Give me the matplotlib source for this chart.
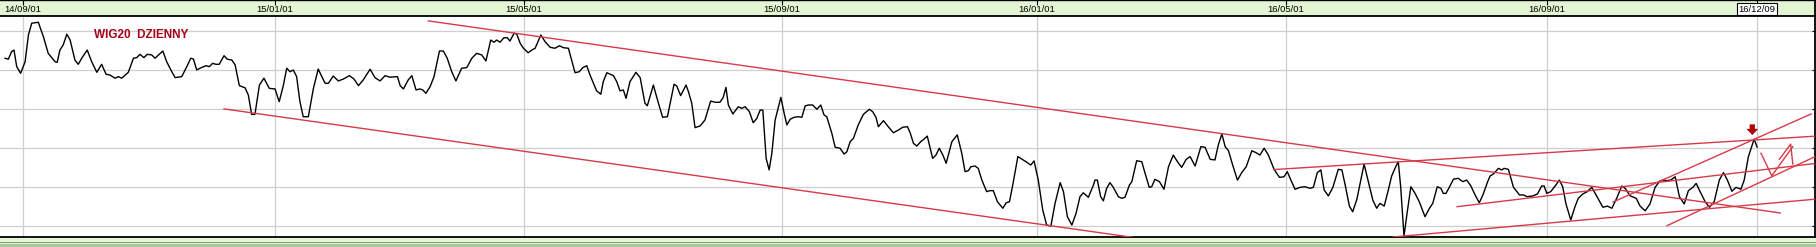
import matplotlib
matplotlib.use("Agg")
import matplotlib.pyplot as plt
from matplotlib.patches import Rectangle

# ---- Data: WIG20 daily closes (session 0 = 2014-09-01) ---- #

session = [
    -6.0, -4.9, -3.8, -3.0, -2.1, -0.8, 0.7, 1.8, 2.9, 5.1,
    6.8, 8.4, 10.7, 11.4, 12.3, 13.4, 14.6, 15.7, 17.3, 18.4,
    19.9, 21.4, 22.9, 24.6, 26.2, 27.7, 29.0, 30.7, 31.8, 32.9,
    35.1, 36.8, 37.9, 39.0, 40.3, 41.4, 42.9, 44.0, 46.6, 47.9,
    49.6, 50.7, 52.9, 54.6, 55.9, 56.8, 57.9, 59.0, 61.0, 62.1,
    63.2, 64.3, 65.4, 67.0, 68.1, 69.6, 70.7, 72.1, 74.0, 75.1,
    76.2, 77.3, 78.8, 80.3, 82.1, 84.0, 85.4, 86.8, 87.9, 89.0,
    90.1, 91.2, 92.3, 93.4, 95.1, 96.8, 98.4, 99.6, 100.7, 101.8,
    103.4, 105.1, 106.8, 108.8, 110.3, 111.8, 113.4, 115.7, 117.3, 119.0,
    120.7, 122.3, 124.8, 125.7, 126.8, 128.4, 129.6, 131.0, 132.3, 133.2,
    134.3, 135.7, 137.0, 138.8, 140.1, 141.4, 142.9, 144.3, 146.2, 147.9,
    149.6, 151.2, 152.9, 154.3, 155.9, 157.0, 157.9, 159.0, 160.3, 161.4,
    162.3, 163.7, 164.6, 165.7, 166.8, 168.4, 169.6, 170.7, 172.6, 174.0,
    175.7, 177.3, 178.8, 180.1, 181.8, 184.0, 185.4, 186.6, 187.9, 189.0,
    191.2, 192.6, 193.4, 194.6, 196.8, 197.9, 199.0, 200.1, 201.0, 202.3,
    204.3, 205.7, 207.3, 208.1, 210.1, 211.8, 213.2, 214.8, 217.0, 217.9,
    219.2, 221.0, 221.8, 222.9, 224.0, 225.7, 227.3, 229.2, 230.7, 232.3,
    233.4, 234.3, 235.1, 236.6, 238.4, 239.6, 240.7, 242.1, 243.4, 244.6,
    245.7, 246.6, 247.7, 248.7, 249.6, 250.7, 252.6, 253.7, 254.6, 255.7,
    257.0, 258.4, 259.6, 260.7, 261.8, 263.2, 264.6, 265.9, 267.0, 267.9,
    269.6, 270.7, 272.3, 273.7, 274.6, 275.7, 276.8, 278.4, 280.1, 282.1,
    283.2, 284.3, 285.1, 286.8, 288.4, 290.1, 291.8, 293.2, 294.8, 295.7,
    296.8, 297.9, 299.2, 300.3, 301.4, 303.2, 304.3, 305.4, 306.6, 307.7,
    309.6, 311.4, 312.9, 314.0, 315.1, 315.9, 317.3, 318.4, 319.6, 321.2,
    322.3, 323.4, 324.8, 326.6, 327.7, 328.8, 329.9, 331.6, 334.3, 335.9,
    337.0, 338.4, 339.9, 341.2, 342.6, 344.0, 345.7, 346.8, 348.1, 349.6,
    351.0, 352.3, 353.4, 355.1, 356.8, 357.3, 358.1, 359.2, 360.1, 361.2,
    362.3, 363.4, 365.1, 366.2, 367.3, 368.8, 369.6, 371.2, 372.9, 374.0,
    375.4, 376.2, 377.3, 378.8, 380.3, 381.8, 383.4, 384.8, 386.2, 387.7,
    389.0, 390.7, 392.6, 394.0, 395.7, 397.3, 398.4, 399.6, 400.7, 401.8,
    403.2, 404.8, 406.2, 407.7, 409.6, 411.0, 412.3, 413.7, 415.1, 417.0,
    418.8, 420.3, 421.4, 422.6, 424.0, 425.7, 427.3, 429.0, 430.1, 431.4,
    432.6, 433.7, 435.1, 436.6, 438.4, 439.6, 440.7, 442.1, 443.2, 444.6,
    445.9, 447.0, 448.4, 449.9, 451.2, 452.3, 453.7, 454.8, 456.2, 457.3,
    458.4, 459.2, 460.3, 461.4, 462.6, 464.0, 465.4, 467.3, 468.8, 469.9,
    471.4, 472.6, 473.4, 474.3, 475.4, 476.8, 478.4, 479.9, 481.2, 482.6,
    484.0, 485.4, 486.6, 488.2, 489.0, 490.1, 491.8, 492.9, 493.7, 495.1,
    496.8, 498.8, 500.1, 501.4, 503.2, 504.8, 506.2, 507.0, 507.9, 509.2,
    510.7, 512.1, 513.2, 514.3, 515.9, 517.3, 518.4, 519.9, 521.4, 522.9,
    524.3, 526.6, 528.1, 529.6, 531.2, 532.9, 534.0, 535.7, 537.7, 539.0,
    540.7, 542.3, 544.0, 545.7, 547.0, 547.9, 549.2, 550.7, 552.1, 553.7,
    555.1, 556.6, 557.7, 559.0, 560.7, 562.1, 563.7, 565.4, 566.8, 568.1,
    569.6, 571.0, 572.6, 573.7, 575.1, 577.0, 578.0,
]

close = [
    2359, 2354, 2393, 2401, 2316, 2282, 2341, 2478, 2538, 2543,
    2469, 2384, 2341, 2338, 2401, 2427, 2482, 2452, 2350, 2328,
    2367, 2401, 2341, 2287, 2328, 2277, 2273, 2257, 2265, 2257,
    2287, 2359, 2362, 2379, 2362, 2379, 2376, 2359, 2396, 2341,
    2290, 2260, 2265, 2316, 2359, 2355, 2299, 2308, 2321, 2316,
    2333, 2328, 2328, 2372, 2354, 2350, 2325, 2219, 2208, 2171,
    2072, 2072, 2222, 2257, 2205, 2202, 2137, 2222, 2308, 2290,
    2299, 2265, 2137, 2060, 2060, 2205, 2304, 2265, 2231, 2231,
    2268, 2243, 2253, 2270, 2253, 2219, 2248, 2303, 2260, 2243,
    2270, 2262, 2265, 2219, 2202, 2248, 2270, 2197, 2202, 2197,
    2180, 2214, 2265, 2396, 2396, 2359, 2290, 2243, 2308, 2311,
    2359, 2384, 2376, 2345, 2452, 2441, 2452, 2441, 2464, 2464,
    2447, 2487, 2482, 2436, 2410, 2387, 2401, 2410, 2478, 2444,
    2415, 2410, 2423, 2413, 2410, 2285, 2290, 2311, 2321, 2273,
    2192, 2175, 2239, 2285, 2270, 2239, 2192, 2197, 2154, 2239,
    2287, 2260, 2129, 2116, 2222, 2129, 2057, 2060, 2226, 2217,
    2168, 2222, 2188, 2129, 2004, 2013, 2043, 2140, 2134, 2134,
    2159, 2210, 2120, 2074, 2111, 2103, 2111, 2086, 2029, 2052,
    2094, 2094, 1847, 1788, 1873, 2043, 2159, 2078, 2018, 2047,
    2057, 2060, 2057, 2115, 2120, 2120, 2098, 2120, 2069, 2060,
    1975, 1904, 1899, 1869, 1881, 1932, 1950, 2018, 2072, 2098,
    2086, 2057, 2009, 2040, 2009, 1978, 1992, 2006, 2009, 1978,
    1924, 1910, 1932, 1945, 1961, 1847, 1864, 1899, 1864, 1822,
    1932, 1967, 1873, 1779, 1784, 1804, 1808, 1796, 1736, 1677,
    1682, 1682, 1625, 1592, 1620, 1625, 1711, 1856, 1830, 1813,
    1834, 1736, 1583, 1506, 1501, 1617, 1723, 1677, 1549, 1506,
    1566, 1651, 1671, 1648, 1711, 1736, 1736, 1651, 1630, 1694,
    1723, 1699, 1651, 1643, 1648, 1711, 1728, 1835, 1830, 1771,
    1699, 1702, 1740, 1728, 1689, 1804, 1864, 1830, 1801, 1842,
    1856, 1808, 1907, 1904, 1842, 1839, 1915, 1972, 1907, 1886,
    1813, 1736, 1774, 1804, 1886, 1876, 1864, 1899, 1864, 1791,
    1750, 1753, 1779, 1736, 1689, 1699, 1702, 1694, 1699, 1774,
    1788, 1685, 1655, 1699, 1791, 1788, 1711, 1603, 1574, 1638,
    1736, 1818, 1728, 1634, 1592, 1617, 1603, 1668, 1757, 1796,
    1830, 1702, 1450, 1574, 1702, 1668, 1625, 1549, 1592, 1617,
    1702, 1694, 1668, 1668, 1699, 1741, 1745, 1728, 1736, 1706,
    1660, 1620, 1660, 1728, 1757, 1767, 1796, 1788, 1796, 1791,
    1699, 1660, 1660, 1651, 1655, 1665, 1706, 1706, 1668, 1677,
    1706, 1736, 1702, 1614, 1532, 1600, 1643, 1665, 1677, 1699,
    1660, 1597, 1603, 1592, 1643, 1706, 1694, 1655, 1643, 1603,
    1579, 1614, 1699, 1733, 1736, 1733, 1736, 1753, 1651, 1614,
    1682, 1699, 1719, 1677, 1625, 1597, 1625, 1736, 1774, 1736,
    1679, 1699, 1689, 1736, 1856, 1945, 1905,
]

tick_sessions = [0, 84, 167, 253, 338, 421, 508, 578]
tick_labels = ["14/09/01", "15/01/01", "15/05/01", "15/09/01",
               "16/01/01", "16/05/01", "16/09/01", "16/12/09"]
grid_levels = [1500, 1700, 1900, 2100, 2300, 2500]

# trend lines drawn by hand on the chart: start / end (session, level)
trend_s0 = [135.1, 67.0, 417.0, 456.7, 478.0, 530.0, 548.0]
trend_v0 = [2550, 2100, 1790, 1445, 1600, 1624, 1503]
trend_s1 = [585.7, 372.3, 600.0, 600.0, 600.0, 596.0, 600.0]
trend_v1 = [1568, 1438, 1963, 1642, 1826, 2074, 1875]

# projected zig-zag after the last session
proj_s = [579.3, 582.9, 589.9]
proj_v = [1873, 1758, 1907]
proj_arrow_s = [585.4, 589.2, 589.9]
proj_arrow_v = [1842, 1920, 1818]

signal_s = 576.4
signal_v = 1966

# ---- Figure ---- #

W, H = 1816, 247
fig = plt.figure(figsize=(W / 100, H / 100), dpi=100)
fig.patch.set_facecolor("white")

red = "#d63a48"
dark_red = "#b0000c"
green_band = "#e3f5d3"

ax = fig.add_axes([0, 10 / H, 1815 / W, 221 / H])
ax.plot(session, close, color="black", lw=1.0, zorder=3)

for s0, v0, s1, v1 in zip(trend_s0, trend_v0, trend_s1, trend_v1):
    ax.plot([s0, s1], [v0, v1], color=red, lw=1.0, zorder=4)
ax.plot(proj_s, proj_v, color=red, lw=1.0, zorder=4)
ax.plot(proj_arrow_s, proj_arrow_v, color=red, lw=1.0, zorder=4)

# down arrow marking the last top
ax.annotate("", xy=(signal_s, signal_v), xytext=(signal_s, signal_v + 55),
            arrowprops=dict(arrowstyle="simple,head_width=0.85,head_length=0.45,tail_width=0.38",
                            color=dark_red, lw=0, shrinkA=0, shrinkB=0), zorder=5)

ax.set_xlim(-7.67, 597.3)
ax.set_ylim(1445, 2575)
ax.set_xticks(tick_sessions)
ax.set_yticks(grid_levels)
ax.grid(True, color="#cfcfcf", lw=0.9)
ax.set_axisbelow(True)
ax.tick_params(axis="x", length=0, labelbottom=False)
ax.yaxis.tick_right()
ax.tick_params(axis="y", direction="in", length=2.5, width=0.8,
               labelright=False, color="black")
for side in ["left", "top"]:
    ax.spines[side].set_visible(False)
ax.spines["right"].set_linewidth(1.3)
ax.spines["bottom"].set_linewidth(1.3)

fig.text(94 / W, 1 - 37.5 / H, "WIG20  DZIENNY", color="#a50016",
         fontsize=8.5, fontweight="bold", family="Liberation Sans",
         va="baseline", ha="left")

# top date band
band = fig.add_axes([0, 231 / H, 1815 / W, 16 / H], sharex=ax)
band.set_facecolor(green_band)
band.set_ylim(0, 1)
band.set_yticks([])
band.xaxis.tick_top()
band.tick_params(axis="x", direction="in", length=3.5, width=0.8,
                 labeltop=False, labelbottom=False, color="black")
band.spines["left"].set_visible(False)
band.spines["top"].set_linewidth(1.0)
band.spines["bottom"].set_linewidth(1.3)
band.spines["right"].set_linewidth(1.3)
for s, lab in zip(tick_sessions, tick_labels):
    t = band.text(s, 0.42, lab, ha="center", va="center", fontsize=6.8,
                  family="Liberation Sans", color="black")
    if lab == tick_labels[-1]:
        t.set_bbox(dict(facecolor="white", edgecolor="black", lw=0.8, pad=1.2))

# bottom green stripes
stripes = [(0, 3, "#a8c89e"), (3, 4.3, "#dcefd2"), (4.3, 5.2, "#7e9f77"), (5.2, 9.5, "#e3f5d3")]
for y0, y1, c in stripes:
    fig.add_artist(Rectangle((0, y0 / H), 1, (y1 - y0) / H, transform=fig.transFigure,
                             facecolor=c, edgecolor="none", zorder=0))

fig.savefig("out.png", dpi=100)
